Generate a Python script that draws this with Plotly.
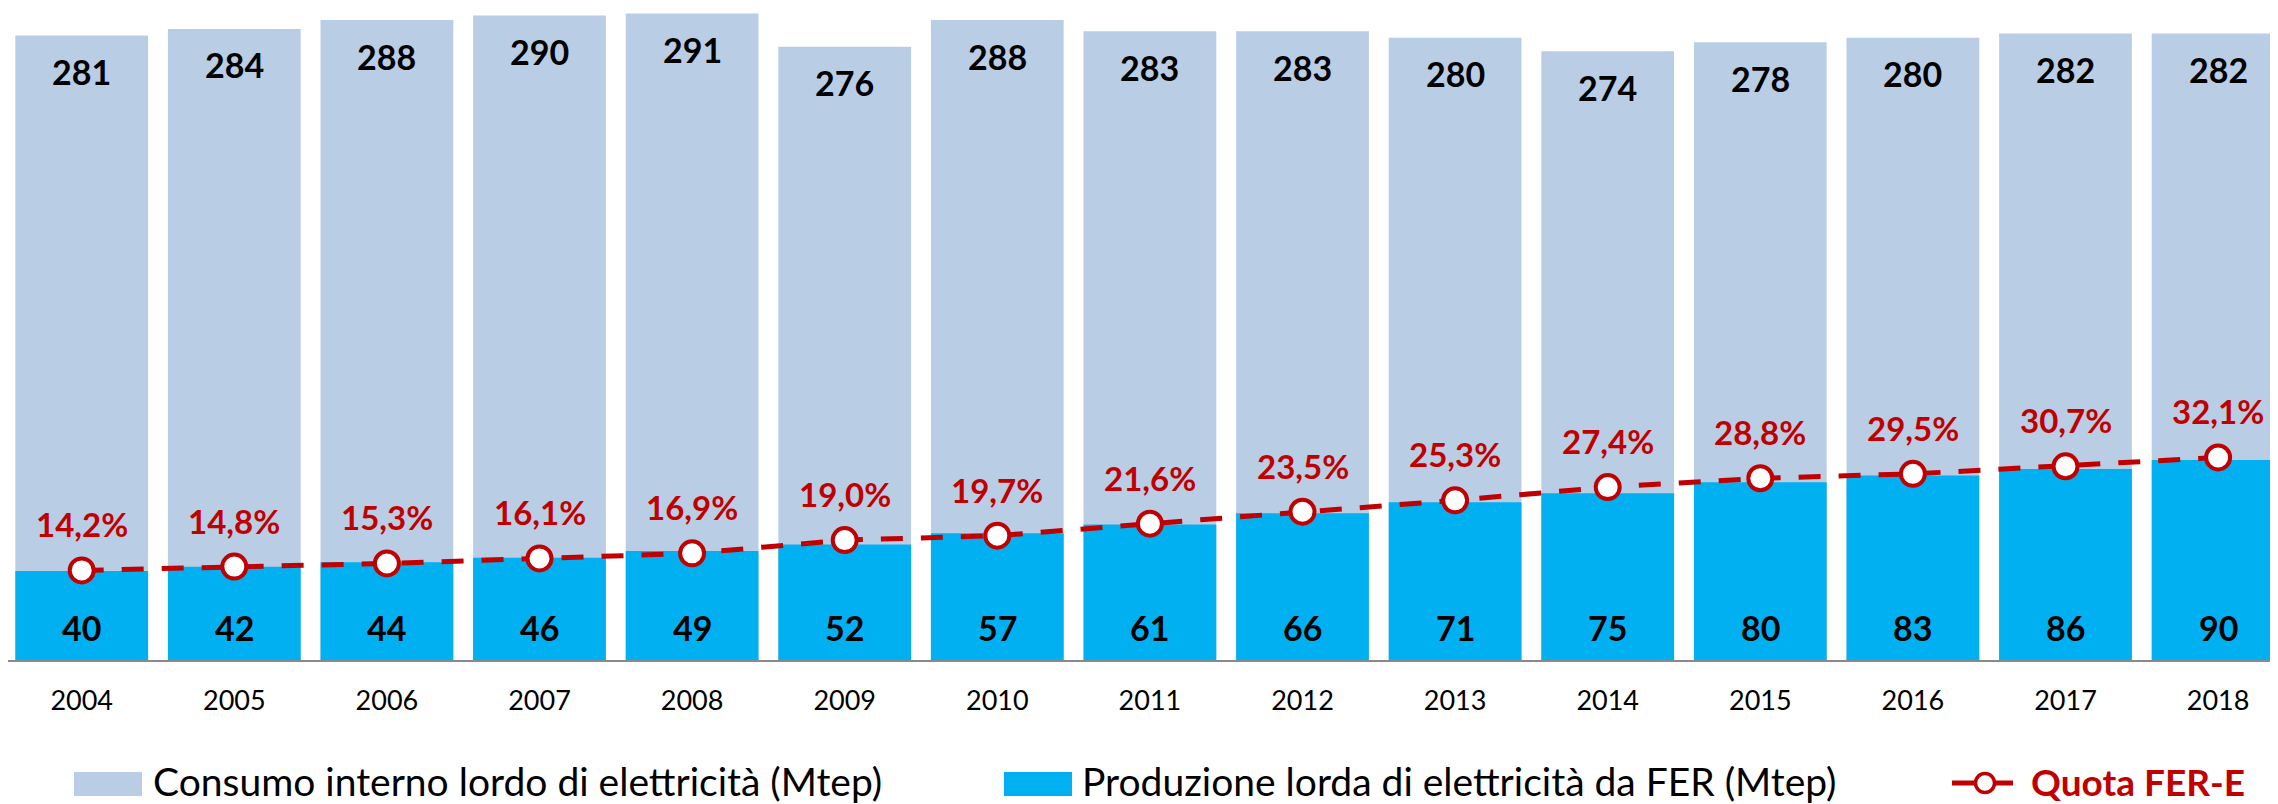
import plotly.graph_objects as go

# dati (Mtep e quota %)
anni = [2004, 2005, 2006, 2007, 2008, 2009, 2010, 2011, 2012, 2013, 2014, 2015, 2016, 2017, 2018]
consumo = [281, 284, 288, 290, 291, 276, 288, 283, 283, 280, 274, 278, 280, 282, 282]
produzione = [40, 42, 44, 46, 49, 52, 57, 61, 66, 71, 75, 80, 83, 86, 90]
quota = [14.2, 14.8, 15.3, 16.1, 16.9, 19.0, 19.7, 21.6, 23.5, 25.3, 27.4, 28.8, 29.5, 30.7, 32.1]

nome_consumo = 'Consumo interno lordo di elettricità (Mtep)'
nome_produzione = 'Produzione lorda di elettricità da FER (Mtep)'
nome_quota = 'Quota FER-E'

C_CONS, C_PROD, C_RED = '#B9CDE5', '#00B0F0', '#C00000'
FONT = 'Lato, "Open Sans", sans-serif'

# la pagina ha 8px di margine sul body: la figura viene ridotta di conseguenza
OFF = 8
W, H = 2278 - OFF, 804 - OFF
L, R, T, B = 0, W, 0, 660 - OFF   # area del grafico in pixel della figura
PASSO = 152.6                      # pixel per anno


def px(x):
    # x in pixel dello schermo -> coordinate paper
    return (x - OFF - L) / (R - L)


def py(y):
    return (B - (y - OFF)) / (B - T)


x0 = anni[0] - (81.7 - OFF) / PASSO

fig = go.Figure()
fig.add_trace(go.Bar(x=anni, y=consumo, name=nome_consumo, marker=dict(color=C_CONS, line_width=0)))
fig.add_trace(go.Bar(x=anni, y=produzione, name=nome_produzione, marker=dict(color=C_PROD, line_width=0)))
fig.add_trace(go.Scatter(
    x=anni, y=quota, name=nome_quota, yaxis='y2', mode='lines+markers', cliponaxis=False,
    line=dict(color=C_RED, width=5, dash='22px,18px'),
    marker=dict(symbol='circle', size=24, color='white', line=dict(color=C_RED, width=4)),
))

ann = []
for a, c, p, q in zip(anni, consumo, produzione, quota):
    ann.append(dict(x=a, y=c, xref='x', yref='y', text=f'<b>{c}</b>', showarrow=False,
                    yanchor='middle', yshift=-36, font=dict(family=FONT, size=34, color='black')))
    ann.append(dict(x=a, y=0, xref='x', yref='y', text=f'<b>{p}</b>', showarrow=False,
                    yanchor='middle', yshift=33, font=dict(family=FONT, size=34, color='black')))
    ann.append(dict(x=a, y=q, xref='x', yref='y2', text='<b>' + f'{q:.1f}'.replace('.', ',') + '%</b>',
                    showarrow=False, yanchor='middle', yshift=46, font=dict(family=FONT, size=33, color=C_RED)))

# legenda disegnata a mano (riquadri larghi come nell'originale)
LEG_Y = 781
shapes = [
    dict(type='rect', xref='paper', yref='paper', x0=px(74), x1=px(142), y0=py(772), y1=py(796),
         fillcolor=C_CONS, line_width=0),
    dict(type='rect', xref='paper', yref='paper', x0=px(1004), x1=px(1072), y0=py(772), y1=py(796),
         fillcolor=C_PROD, line_width=0),
    dict(type='line', xref='paper', yref='paper', x0=px(1952), x1=px(2013), y0=py(783), y1=py(783),
         line=dict(color=C_RED, width=5)),
    dict(type='circle', xref='paper', yref='paper', x0=px(1975.5), x1=px(1994.5), y0=py(773.5), y1=py(792.5),
         fillcolor='white', line=dict(color=C_RED, width=3.5)),
]
ann += [
    dict(x=px(151), y=py(LEG_Y), xref='paper', yref='paper', text=nome_consumo, showarrow=False,
         xanchor='left', yanchor='middle', font=dict(family=FONT, size=39, color='black')),
    dict(x=px(1080), y=py(LEG_Y), xref='paper', yref='paper', text=nome_produzione, showarrow=False,
         xanchor='left', yanchor='middle', font=dict(family=FONT, size=39, color='black')),
    dict(x=px(2029), y=py(LEG_Y), xref='paper', yref='paper', text=f'<b>{nome_quota}</b>', showarrow=False,
         xanchor='left', yanchor='middle', font=dict(family=FONT, size=37, color=C_RED)),
]

fig.update_layout(
    width=W, height=H, barmode='overlay', bargap=0.13, showlegend=False,
    plot_bgcolor='white', paper_bgcolor='white',
    margin=dict(l=L, r=W - R, t=T, b=H - B),
    font=dict(family=FONT, color='black'),
    xaxis=dict(range=[x0, x0 + (R - L) / PASSO], tickvals=anni, ticktext=[str(a) for a in anni],
               showgrid=False, zeroline=False, showline=True, linecolor='#898989', linewidth=2,
               ticks='', ticklabelstandoff=16, tickfont=dict(family=FONT, size=27, color='black')),
    yaxis=dict(range=[0, B / 2.222], visible=False, showgrid=False),
    yaxis2=dict(range=[0, B / 6.31], overlaying='y', visible=False, showgrid=False),
    annotations=ann, shapes=shapes,
)

fig.write_html('out.html')
